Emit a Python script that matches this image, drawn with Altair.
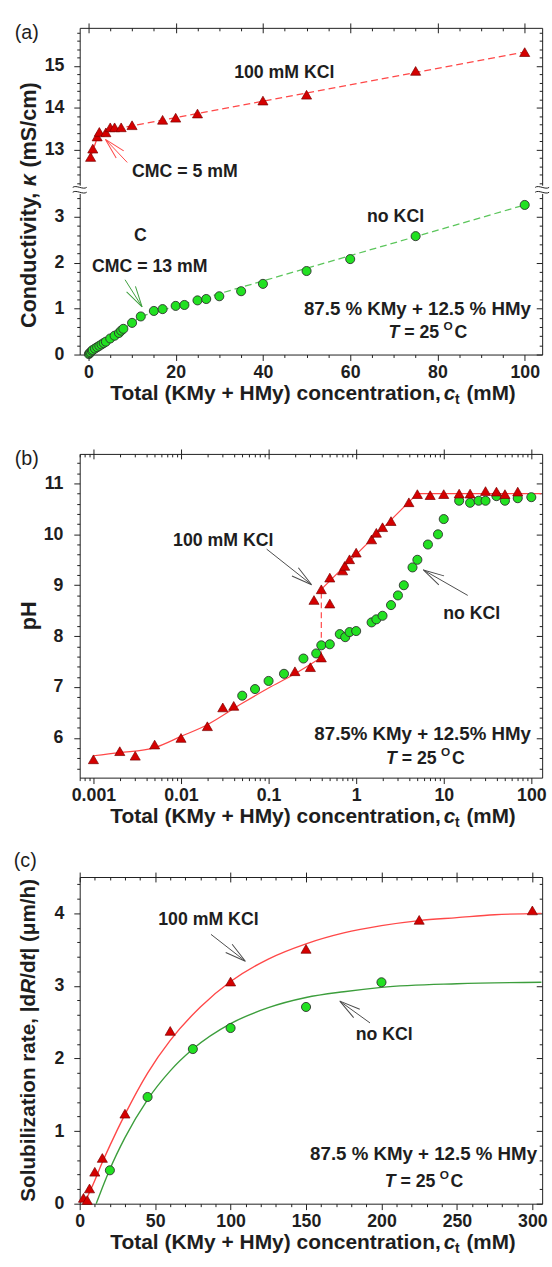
import altair as alt
import pandas as pd

FONT = "Liberation Sans"
INK = "#1e1e1e"
RED_FILL = "#d50000"
RED_EDGE = "#7a0000"
RED_LINE = "#ff4848"
GREEN_FILL = "#22e122"
GREEN_EDGE = "#2f2f2f"
GREEN_DASH = "#5cc65c"
GREEN_LINE = "#3c9e3c"
ARROW_DARK = "#4a4a4a"

PANEL_W = 470
H_A, H_B, H_C = 332, 329, 332

# ---------------- (a) conductivity vs. total concentration ----------------
a_nokcl_ct = [0.1, 0.3, 0.5, 0.8, 1.0, 1.5, 2.0, 2.5, 3.0, 3.5, 4.0, 5.0, 6.0, 7.0, 7.5, 8.0,
              10, 12, 15, 17, 20, 22, 25, 27, 30, 35, 40, 50, 60, 75, 100]
a_nokcl_kappa = [0.01, 0.03, 0.05, 0.08, 0.10, 0.13, 0.16, 0.19, 0.22, 0.25, 0.28, 0.35, 0.41, 0.47, 0.52, 0.56,
                 0.69, 0.83, 0.95, 0.99, 1.06, 1.08, 1.18, 1.21, 1.27, 1.38, 1.54, 1.82, 2.08, 2.58, 3.26]
a_kcl_ct = [0.5, 1.0, 2.0, 2.5, 4.0, 5.0, 6.0, 7.5, 10, 17, 20, 25, 40, 50, 75, 100]
a_kcl_kappa = [12.82, 13.02, 13.31, 13.42, 13.41, 13.53, 13.53, 13.53, 13.58, 13.71, 13.76, 13.86,
               14.17, 14.31, 14.88, 15.33]
a_nokcl_fit_ct = [0, 12, 100]
a_nokcl_fit_kappa = [0, 0.83, 3.26]
a_kcl_fit_ct = [0.5, 2.5, 100]
a_kcl_fit_kappa = [12.82, 13.42, 15.33]

a_x_major = [0, 20, 40, 60, 80, 100]
a_x_minor = [v for v in range(5, 100, 5) if v % 20]
a_kappa_low_major = [0, 1, 2, 3]
a_kappa_high_major = [13, 14, 15]
a_kappa_low_minor = [round(0.2 * i, 1) for i in range(1, 18) if i % 5]
a_kappa_high_minor = [round(12 + 0.2 * i, 1) for i in range(1, 20) if i % 5]

# broken conductivity axis: lower part 0..3.59, upper part 12.035..15.91
LOW_TOP = 3.59
HIGH_BASE = 12.035
HIGH_RATIO = 0.9107
U_TOP = LOW_TOP + (15.91 - HIGH_BASE) * HIGH_RATIO


def brk(v):
    return v if v <= LOW_TOP else LOW_TOP + (v - HIGH_BASE) * HIGH_RATIO


def brk_expr(field):
    return (f"datum.{field} <= {LOW_TOP} ? datum.{field} : "
            f"{LOW_TOP} + (datum.{field} - {HIGH_BASE}) * {HIGH_RATIO}")


# ---------------- (b) pH vs. total concentration ----------------
b_kcl_ct = [0.001, 0.002, 0.003, 0.005, 0.01, 0.02, 0.03, 0.04, 0.2, 0.3, 0.4, 0.33, 0.4, 0.5, 0.5,
            0.7, 0.74, 0.84, 1.0, 1.5, 1.7, 2.0, 2.5, 4.0, 5.0, 7.0, 10, 15, 20, 30, 40, 50, 70]
b_kcl_ph = [5.58, 5.74, 5.65, 5.87, 6.0, 6.23, 6.6, 6.63, 7.31, 7.39, 7.58, 8.71, 8.92, 8.64, 9.15,
            9.29, 9.38, 9.51, 9.64, 9.9, 10.03, 10.14, 10.26, 10.63, 10.79, 10.77, 10.79, 10.8, 10.8,
            10.85, 10.84, 10.79, 10.84]
b_nokcl_ct = [0.05, 0.07, 0.1, 0.15, 0.25, 0.35, 0.4, 0.5, 0.65, 0.75, 0.84, 1.0, 1.5, 1.7, 2.0,
              2.5, 3.0, 3.5, 4.4, 5.0, 6.6, 8.6, 10, 15, 20, 25, 30, 40, 50, 70, 100]
b_nokcl_ph = [6.83, 6.96, 7.12, 7.26, 7.56, 7.66, 7.82, 7.84, 8.04, 7.98, 8.08, 8.1, 8.27, 8.33, 8.4,
              8.61, 8.8, 9.0, 9.35, 9.5, 9.8, 10.0, 10.3, 10.66, 10.62, 10.66, 10.66, 10.75, 10.66,
              10.71, 10.73]
b_fit_low_ct = [0.001, 0.002, 0.005, 0.01, 0.02, 0.05, 0.1, 0.2, 0.4]
b_fit_low_ph = [5.65, 5.71, 5.81, 6.03, 6.26, 6.68, 6.98, 7.26, 7.58]
b_fit_jump_ct = [0.4, 0.4]
b_fit_jump_ph = [7.58, 8.92]
b_fit_high_ct = [0.4, 5.0, 130]
b_fit_high_ph = [8.92, 10.8, 10.8]

B_XMIN, B_XMAX = 0.000697, 133.0
b_x_major = [0.001, 0.01, 0.1, 1, 10, 100]
b_x_minor = [m * 10.0 ** e for e in range(-4, 3) for m in range(2, 10) if B_XMIN <= m * 10.0 ** e <= B_XMAX]
b_ph_major = [6, 7, 8, 9, 10, 11]
b_ph_minor = [round(5.4 + 0.2 * i, 1) for i in range(0, 31) if round(5.4 + 0.2 * i, 1) % 1]

# ---------------- (c) solubilization rate ----------------
c_kcl_ct = [2.5, 5, 6.5, 10, 15, 30, 60, 100, 150, 225, 300]
c_kcl_rate = [0.08, 0.05, 0.21, 0.44, 0.63, 1.24, 2.38, 3.06, 3.51, 3.91, 4.04]
c_nokcl_ct = [20, 45, 75, 100, 150, 200]
c_nokcl_rate = [0.46, 1.47, 2.13, 2.42, 2.71, 3.05]
c_kcl_fit_ct = [3, 10, 15, 20, 30, 45, 60, 80, 100, 125, 150, 175, 200, 225, 250, 275, 306]
c_kcl_fit_rate = [0, 0.32, 0.57, 0.80, 1.23, 1.80, 2.25, 2.71, 3.06, 3.37, 3.58, 3.73, 3.83, 3.90,
                  3.94, 3.98, 4.0]
c_nokcl_fit_ct = [10.9, 15, 20, 30, 45, 60, 75, 100, 125, 150, 175, 200, 250, 306]
c_nokcl_fit_rate = [0, 0.22, 0.475, 0.91, 1.435, 1.83, 2.13, 2.48, 2.70, 2.84, 2.92, 2.98, 3.03, 3.05]

c_x_major = [0, 50, 100, 150, 200, 250, 300]
c_x_minor = [v for v in range(10, 306, 10) if v % 50]
c_rate_major = [0, 1, 2, 3, 4]
c_rate_minor = [round(0.2 * i, 1) for i in range(1, 23) if i % 5]

# ---------------- annotation arrows: start -> tip, head angle (deg) ----------------
a_arrow_x0 = [8.9, 8.4]
a_arrow_y0 = [12.69, 1.63]
a_arrow_x1 = [3.9, 12.3]
a_arrow_y1 = [13.24, 1.04]
a_arrow_ang = [316, 148]
b_arrow_x0 = [0.095, 18.8]
b_arrow_y0 = [9.71, 8.80]
b_arrow_x1 = [0.31, 5.85]
b_arrow_y1 = [9.01, 9.30]
b_arrow_ang = [128, 300]
c_arrow_x0 = [87, 192.4]
c_arrow_y0 = [3.71, 2.49]
c_arrow_x1 = [109.8, 172.4]
c_arrow_y1 = [3.34, 2.79]
c_arrow_ang = [128, 306]

ARROW_HEAD = "M0,0L-0.25,1M0,0L0.25,1"
BREAK_MARK = "M-1,-0.35C-0.5,-0.75,0.5,0.05,1,-0.35M-1,0.35C-0.5,-0.05,0.5,0.75,1,0.35"

XS_A = alt.Scale(domain=[-2, 104], nice=False, zero=False)
YS_A = alt.Scale(domain=[0, U_TOP], nice=False, zero=False)
XS_B = alt.Scale(type="log", domain=[B_XMIN, B_XMAX], nice=False)
YS_B = alt.Scale(domain=[5.22, 11.58], nice=False, zero=False)
XS_C = alt.Scale(domain=[0, 306.5], nice=False, zero=False)
YS_C = alt.Scale(domain=[0, 4.5], nice=False, zero=False)


class Panel:
    """Builds layers that share one pair of scales."""

    def __init__(self, xs, ys, broken=False):
        self.xs, self.ys, self.broken = xs, ys, broken

    def chart(self, df):
        c = alt.Chart(df)
        if self.broken:
            c = c.transform_calculate(v=brk_expr("y"))
            if "y1" in df.columns:
                c = c.transform_calculate(v1=brk_expr("y1"))
        return c

    def enc(self, xf="x", yf="y"):
        yname = {"y": "v", "y1": "v1"}[yf] if self.broken else yf
        return dict(x=alt.X(f"{xf}:Q", scale=self.xs, axis=None),
                    y=alt.Y(f"{yname}:Q", scale=self.ys, axis=None))

    def line(self, xs, ys, color, width=1.3, dash=None, interp="linear"):
        kw = dict(color=color, strokeWidth=width, interpolate=interp)
        if dash:
            kw["strokeDash"] = dash
        df = pd.DataFrame({"x": xs, "y": ys, "o": list(range(len(xs)))})
        return self.chart(df).mark_line(**kw).encode(order="o:Q", **self.enc())

    def triangles(self, xs, ys):
        df = pd.DataFrame({"x": xs, "y": ys})
        return self.chart(df).mark_point(shape="triangle-up", filled=True, fill=RED_FILL, stroke=RED_EDGE,
                                         strokeWidth=0.7, size=105, opacity=1).encode(**self.enc())

    def circles(self, xs, ys):
        df = pd.DataFrame({"x": xs, "y": ys})
        return self.chart(df).mark_point(shape="circle", filled=True, fill=GREEN_FILL, stroke=GREEN_EDGE,
                                         strokeWidth=0.9, size=85, opacity=1).encode(**self.enc())

    def arrows(self, x0, y0, x1, y1, ang, colors):
        out = []
        for i in range(len(x0)):
            df = pd.DataFrame({"x": [x0[i]], "y": [y0[i]], "x1": [x1[i]], "y1": [y1[i]], "ang": [ang[i]]})
            e0 = self.enc("x", "y")
            e1 = self.enc("x1", "y1")
            shaft = self.chart(df).mark_rule(color=colors[i], strokeWidth=1).encode(
                x=e0["x"], y=e0["y"], x2=alt.X2(e1["x"].shorthand), y2=alt.Y2(e1["y"].shorthand))
            head = self.chart(df).mark_point(shape=ARROW_HEAD, filled=False, color=colors[i], strokeWidth=1,
                                             size=1800, opacity=1).encode(
                angle=alt.Angle("ang:Q", scale=None), **e1)
            out += [shaft, head]
        return out

    def text(self, x, y, txt, size=18, **kw):
        df = pd.DataFrame({"x": [x], "y": [y]})
        return self.chart(df).mark_text(text=txt, font=FONT, fontSize=size, fontWeight="bold", color=INK,
                                        align=kw.pop("align", "center"), baseline="middle", **kw).encode(**self.enc())

    def temperature(self, x, y):
        parts = [("T", -40, 0, 18, "italic"), ("= 25", -24, 0, 18, "normal"),
                 ("O", 16, -7, 12, "normal"), ("C", 27, 0, 18, "normal")]
        return [self.text(x, y, t, size=fs, align="left", dx=dx, dy=dy, fontStyle=st)
                for t, dx, dy, fs, st in parts]

    def axes(self, h, xmaj, xmin, ymaj, ymin, xfmt, ylabel_expr=None, ypad=10):
        df = pd.DataFrame({"ax": [xmaj[0]], "ay": [ymaj[0]]})
        common = dict(grid=False, title=None, domainColor=INK, tickColor=INK, domainWidth=1, tickWidth=1)
        lab = dict(labelFont=FONT, labelFontSize=18, labelFontWeight="bold", labelColor=INK,
                   labelFlush=False, labelOverlap=False)
        ylab = dict(lab)
        if ylabel_expr:
            ylab["labelExpr"] = ylabel_expr

        def layer(xa, ya):
            return alt.Chart(df).mark_point(opacity=0).encode(
                x=alt.X("ax:Q", scale=self.xs, axis=xa), y=alt.Y("ay:Q", scale=self.ys, axis=ya))

        return [
            layer(alt.Axis(orient="bottom", values=xmaj, tickSize=6, labelPadding=3, format=xfmt, **common, **lab),
                  alt.Axis(orient="left", values=ymaj, tickSize=6, labelPadding=ypad, **common, **ylab)),
            layer(alt.Axis(orient="bottom", values=xmin, tickSize=3, domain=False, labels=False, **common),
                  alt.Axis(orient="left", values=ymin, tickSize=3, domain=False, labels=False, **common)),
            layer(alt.Axis(orient="top", values=xmaj, tickSize=5, labels=False, **common),
                  alt.Axis(orient="right", ticks=False, labels=False, **common)),
            layer(alt.Axis(orient="bottom", offset=-h, values=xmaj, tickSize=5, domain=False, labels=False, **common),
                  alt.Axis(orient="left", offset=-PANEL_W, values=ymaj, tickSize=6, domain=False, labels=False,
                           **common)),
            layer(alt.Axis(orient="bottom", offset=-h, values=xmin, tickSize=3, domain=False, labels=False, **common),
                  alt.Axis(orient="left", offset=-PANEL_W, values=ymin, tickSize=3, domain=False, labels=False,
                           **common)),
        ]


ONE = pd.DataFrame({"k": [0]})


def fixed_text(txt, px, py, size, style="normal", weight="bold", align="left", angle=0, dx=0, dy=0):
    kw = dict(text=txt, font=FONT, fontSize=size, fontStyle=style, fontWeight=weight, color=INK,
              align=align, baseline="middle", dx=dx, dy=dy)
    if angle:
        kw["angle"] = angle
    return alt.Chart(ONE).mark_text(**kw).encode(x=alt.value(px), y=alt.value(py))


def x_title(h):
    parts = [("Total (KMy + HMy) concentration,", 31, 0, 21.3, "normal"),
             ("c", 370, 0, 21, "italic"),
             ("t", 381.5, 6, 14, "normal"),
             ("(mM)", 393, 0, 21, "normal")]
    return [fixed_text(t, px, h + 40, fs, style=st, dy=dy) for t, px, dy, fs, st in parts]


def y_title(parts, start, size=21):
    return [fixed_text(t, -51, start, size, style=st, angle=270, dx=along) for t, along, st in parts]


# ---------------- assemble (a) ----------------
pa = Panel(XS_A, YS_A, broken=True)
a_layers = pa.axes(H_A, a_x_major, a_x_minor,
                   a_kappa_low_major + [brk(v) for v in a_kappa_high_major],
                   a_kappa_low_minor + [brk(v) for v in a_kappa_high_minor], "d",
                   ylabel_expr=(f"datum.value < {LOW_TOP} ? format(datum.value, 'd') : "
                                f"format(round({HIGH_BASE} + (datum.value - {LOW_TOP}) / {HIGH_RATIO}), 'd')"))
a_layers += [
    pa.line(a_nokcl_fit_ct, a_nokcl_fit_kappa, GREEN_DASH, dash=[7, 4]),
    pa.line(a_kcl_fit_ct, a_kcl_fit_kappa, RED_LINE, dash=[7, 4]),
    pa.circles(a_nokcl_ct, a_nokcl_kappa),
    pa.triangles(a_kcl_ct, a_kcl_kappa),
]
a_layers += pa.arrows(a_arrow_x0, a_arrow_y0, a_arrow_x1, a_arrow_y1, a_arrow_ang, [RED_LINE, GREEN_LINE])
a_layers += [
    pa.text(44.9, 14.82, "100 mM KCl"),
    pa.text(22.1, 12.47, "CMC = 5 mM"),
    pa.text(11.9, 2.59, "C"),
    pa.text(14.05, 1.91, "CMC = 13 mM"),
    pa.text(70.4, 2.99, "no KCl"),
    pa.text(75.4, 1.0, "87.5 % KMy + 12.5 % HMy", size=19),
]
a_layers += pa.temperature(77.8, 0.47)
# axis-break marks on both vertical frame lines
brk_df = pd.DataFrame({"x": [-2, 104], "y": [LOW_TOP, LOW_TOP]})
a_layers += [
    pa.chart(brk_df).mark_point(shape="square", filled=True, color="white", size=70, opacity=1).encode(**pa.enc()),
    pa.chart(brk_df).mark_point(shape=BREAK_MARK, filled=False, color=INK, strokeWidth=1, size=200,
                                opacity=1).encode(**pa.enc()),
]
a_layers += x_title(H_A)
a_layers += y_title([("Conductivity,", 0, "normal"), ("κ", 144, "italic"), ("(mS/cm)", 163, "normal")], 305,
                    size=22)
a_layers += [fixed_text("(a)", -66, 5.5, 20, weight="normal")]
panel_a = alt.layer(*a_layers).resolve_axis(x="independent", y="independent").properties(
    width=PANEL_W, height=H_A)

# ---------------- assemble (b) ----------------
pb = Panel(XS_B, YS_B)
b_layers = pb.axes(H_B, b_x_major, b_x_minor, b_ph_major, b_ph_minor, "~g", ypad=11)
b_layers += [
    pb.line(b_fit_low_ct, b_fit_low_ph, RED_LINE, width=1.2, interp="monotone"),
    pb.line(b_fit_jump_ct, b_fit_jump_ph, RED_LINE, width=1.2, dash=[6, 4]),
    pb.line(b_fit_high_ct, b_fit_high_ph, RED_LINE, width=1.2),
    pb.circles(b_nokcl_ct, b_nokcl_ph),
    pb.triangles(b_kcl_ct, b_kcl_ph),
]
b_layers += pb.arrows(b_arrow_x0, b_arrow_y0, b_arrow_x1, b_arrow_y1, b_arrow_ang, [ARROW_DARK, ARROW_DARK])
b_layers += [
    pb.text(0.0304, 9.87, "100 mM KCl"),
    pb.text(20.9, 8.44, "no KCl"),
    pb.text(5.74, 6.07, "87.5% KMy + 12.5% HMy", size=19),
]
b_layers += pb.temperature(6.17, 5.59)
b_layers += x_title(H_B)
b_layers += [fixed_text("pH", -51, H_B / 2, 22, angle=270, align="center")]
b_layers += [fixed_text("(b)", -66, 5, 20, weight="normal")]
panel_b = alt.layer(*b_layers).resolve_axis(x="independent", y="independent").properties(
    width=PANEL_W, height=H_B)

# ---------------- assemble (c) ----------------
pc = Panel(XS_C, YS_C)
c_layers = pc.axes(H_C, c_x_major, c_x_minor, c_rate_major, c_rate_minor, "d")
c_layers += [
    pc.line(c_nokcl_fit_ct, c_nokcl_fit_rate, GREEN_LINE, width=1.4, interp="monotone"),
    pc.line(c_kcl_fit_ct, c_kcl_fit_rate, RED_LINE, width=1.4, interp="monotone"),
    pc.circles(c_nokcl_ct, c_nokcl_rate),
    pc.triangles(c_kcl_ct, c_kcl_rate),
]
c_layers += pc.arrows(c_arrow_x0, c_arrow_y0, c_arrow_x1, c_arrow_y1, c_arrow_ang, [ARROW_DARK, ARROW_DARK])
c_layers += [
    pc.text(85.3, 3.9, "100 mM KCl"),
    pc.text(201.8, 2.32, "no KCl"),
    pc.text(227.9, 0.68, "87.5 % KMy + 12.5 % HMy", size=19),
]
c_layers += pc.temperature(228.2, 0.30)
c_layers += x_title(H_C)
c_layers += y_title([("Solubilization rate, |d", 0, "normal"), ("R", 211.3, "italic"), ("/d", 226.5, "normal"),
                     ("t", 245.2, "italic"), ("| (μm/h)", 252.2, "normal")], 330)
c_layers += [fixed_text("(c)", -67, -15.7, 20, weight="normal")]
panel_c = alt.layer(*c_layers).resolve_axis(x="independent", y="independent").properties(
    width=PANEL_W, height=H_C)

chart = alt.vconcat(panel_a, panel_b, panel_c, spacing=101, bounds="flush").properties(
    padding={"left": 14, "top": 12, "right": 0, "bottom": 0}
).configure(font=FONT).configure_view(stroke=None)

chart.save("out.html", embed_options={"renderer": "svg", "actions": False})
